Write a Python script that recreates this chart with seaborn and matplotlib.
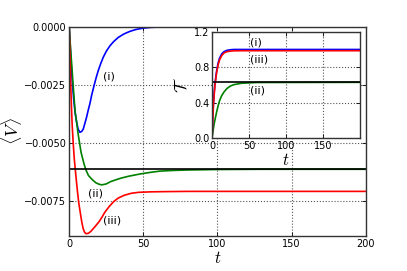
import numpy as np
import pandas as pd
import matplotlib
matplotlib.use("Agg")
import matplotlib.pyplot as plt
from matplotlib.ticker import FuncFormatter
import seaborn as sns

# ---- data ----
t_i = [0, 1, 2, 3, 4, 5, 6, 7.2, 8.5, 9.5, 10.6, 11.7, 12.8, 14, 15.1, 16.9, 18.2, 19.6, 21.3,
       23, 25, 27.5, 30, 33.1, 37, 41, 45, 50, 55, 62, 75, 200]
v_i = [0, -0.0012, -0.0023, -0.0031, -0.0037, -0.0041, -0.0044, -0.00454, -0.0045, -0.0044,
       -0.00415, -0.0039, -0.0036, -0.0033, -0.00296, -0.0025, -0.00219, -0.00189, -0.00158,
       -0.00131, -0.00106, -0.00082, -0.00064, -0.00046, -0.00031, -0.0002, -0.00012,
       -0.00006, -0.00003, -0.00001, 0, 0]

t_ii = [0, 1, 2, 3, 4, 5, 6, 7, 8, 9, 10, 11.3, 13, 15.8, 18, 20, 22, 25, 28, 32, 35, 40, 48,
        55, 61, 70, 80, 100, 130, 200]
v_ii = [0, -0.0010, -0.0019, -0.0028, -0.00365, -0.0041, -0.0046, -0.0050, -0.0054, -0.00565,
        -0.0059, -0.00616, -0.0064, -0.00659, -0.00671, -0.00677, -0.0068, -0.00676, -0.00666,
        -0.00657, -0.00651, -0.00643, -0.00633, -0.00626, -0.00621, -0.00618, -0.00616,
        -0.00614, -0.00613, -0.00613]

t_iii = [0, 0.5, 1, 1.5, 2, 2.7, 3.4, 4.5, 5.6, 6.5, 7.5, 8.5, 9.5, 10.5, 11.5, 13, 14.6, 16,
         18, 20.2, 22, 24, 27, 30, 33, 37, 42, 47, 55, 65, 80, 100, 200]
v_iii = [0, -0.0012, -0.0024, -0.0034, -0.0042, -0.0050, -0.00565, -0.0064, -0.0071, -0.0076,
         -0.0080, -0.0084, -0.0087, -0.00885, -0.0089, -0.00888, -0.0088, -0.0087, -0.00855,
         -0.00838, -0.0082, -0.00798, -0.00773, -0.00752, -0.00737, -0.00725, -0.00716,
         -0.00712, -0.0071, -0.00709, -0.00708, -0.00708, -0.00708]

v_ref = -0.00613

t_in = [0, 1, 2, 3, 4, 6, 8, 10, 13, 16, 20, 25, 30, 40, 60, 200]
T_i = [0, 0.25, 0.42, 0.53, 0.62, 0.75, 0.84, 0.90, 0.95, 0.975, 0.99, 0.997, 1.0, 1.0, 1.0, 1.0]
T_iii = [0, 0.22, 0.39, 0.50, 0.60, 0.73, 0.82, 0.88, 0.93, 0.96, 0.975, 0.982, 0.985, 0.986, 0.986, 0.986]
T_ii = [0, 0.06, 0.12, 0.17, 0.21, 0.29, 0.36, 0.42, 0.48, 0.52, 0.56, 0.59, 0.605, 0.62, 0.628, 0.63]
T_ref = 0.632

main_xticks = [0, 50, 100, 150, 200]
main_yticks = [0, -0.0025, -0.005, -0.0075]
inset_xticks = [0, 50, 100, 150]
inset_yticks = [0.0, 0.4, 0.8, 1.2]

# ---- style ----
sns.set_style("ticks")
plt.rcParams["font.family"] = ["DejaVu Sans"]
plt.rcParams["mathtext.fontset"] = "cm"
plt.rcParams["text.color"] = "black"
plt.rcParams["axes.labelcolor"] = "black"
plt.rcParams["xtick.color"] = "black"
plt.rcParams["ytick.color"] = "black"

fig = plt.figure(figsize=(4.07, 2.71), dpi=100)
ax = fig.add_axes([0.170, 0.129, 0.7285, 0.7725])
axin = fig.add_axes([0.521, 0.4897, 0.3645, 0.3933])

lw = 1.2
df_main = pd.concat([
    pd.DataFrame({"t": t_i, "v": v_i, "s": "(i)"}),
    pd.DataFrame({"t": t_ii, "v": v_ii, "s": "(ii)"}),
    pd.DataFrame({"t": t_iii, "v": v_iii, "s": "(iii)"}),
])
pal = {"(i)": "#0000ff", "(ii)": "#008000", "(iii)": "#ff0000"}
sns.lineplot(data=df_main, x="t", y="v", hue="s", palette=pal, estimator=None,
             sort=False, lw=lw, legend=False, ax=ax)
ax.axhline(v_ref, color="black", lw=lw)

df_in = pd.concat([
    pd.DataFrame({"t": t_in, "T": T_ii, "s": "(ii)"}),
    pd.DataFrame({"t": t_in, "T": T_i, "s": "(i)"}),
    pd.DataFrame({"t": t_in, "T": T_iii, "s": "(iii)"}),
])
sns.lineplot(data=df_in, x="t", y="T", hue="s", palette=pal, estimator=None,
             sort=False, lw=lw, legend=False, ax=axin)
axin.axhline(T_ref, color="black", lw=lw)

for a in (ax, axin):
    a.grid(True, linestyle=":", color="#555555", lw=0.8)
    a.tick_params(direction="in", top=True, right=True, labelsize=7, length=3, width=0.6,
                  pad=2, colors="black")
    for sp in a.spines.values():
        sp.set_color("#333333")
        sp.set_linewidth(1.0)

ax.set_xlim(0, 200)
ax.set_ylim(-0.009, 0)
ax.set_xticks(main_xticks)
ax.set_yticks(main_yticks)
ax.yaxis.set_major_formatter(FuncFormatter(lambda y, p: ("%.4f" % y).replace("-", "\u2212") if y != 0 else "0.0000"))
ax.set_xlabel("$t$", fontsize=12, labelpad=0)
ax.set_ylabel(r"$\langle V\rangle$", fontsize=13, va="center")
ax.yaxis.set_label_coords(-0.193, 0.5)

axin.set_xlim(0, 200)
axin.set_ylim(0, 1.2)
axin.set_xticks(inset_xticks)
axin.set_yticks(inset_yticks)
axin.yaxis.set_major_formatter(FuncFormatter(lambda y, p: "%.1f" % y))
axin.set_xlabel("$t$", fontsize=12, labelpad=0)
axin.set_ylabel(r"$\mathcal{T}$", fontsize=12, labelpad=2)

ax.text(26.8, -0.00215, "(i)", fontsize=8, ha="center", va="center")
ax.text(18, -0.00716, "(ii)", fontsize=8, ha="center", va="center")
ax.text(29.2, -0.00835, "(iii)", fontsize=8, ha="center", va="center")

axin.text(51, 1.077, "(i)", fontsize=8, ha="left", va="center")
axin.text(51, 0.89, "(iii)", fontsize=8, ha="left", va="center")
axin.text(51, 0.536, "(ii)", fontsize=8, ha="left", va="center")

fig.savefig("out.png", dpi=100)
